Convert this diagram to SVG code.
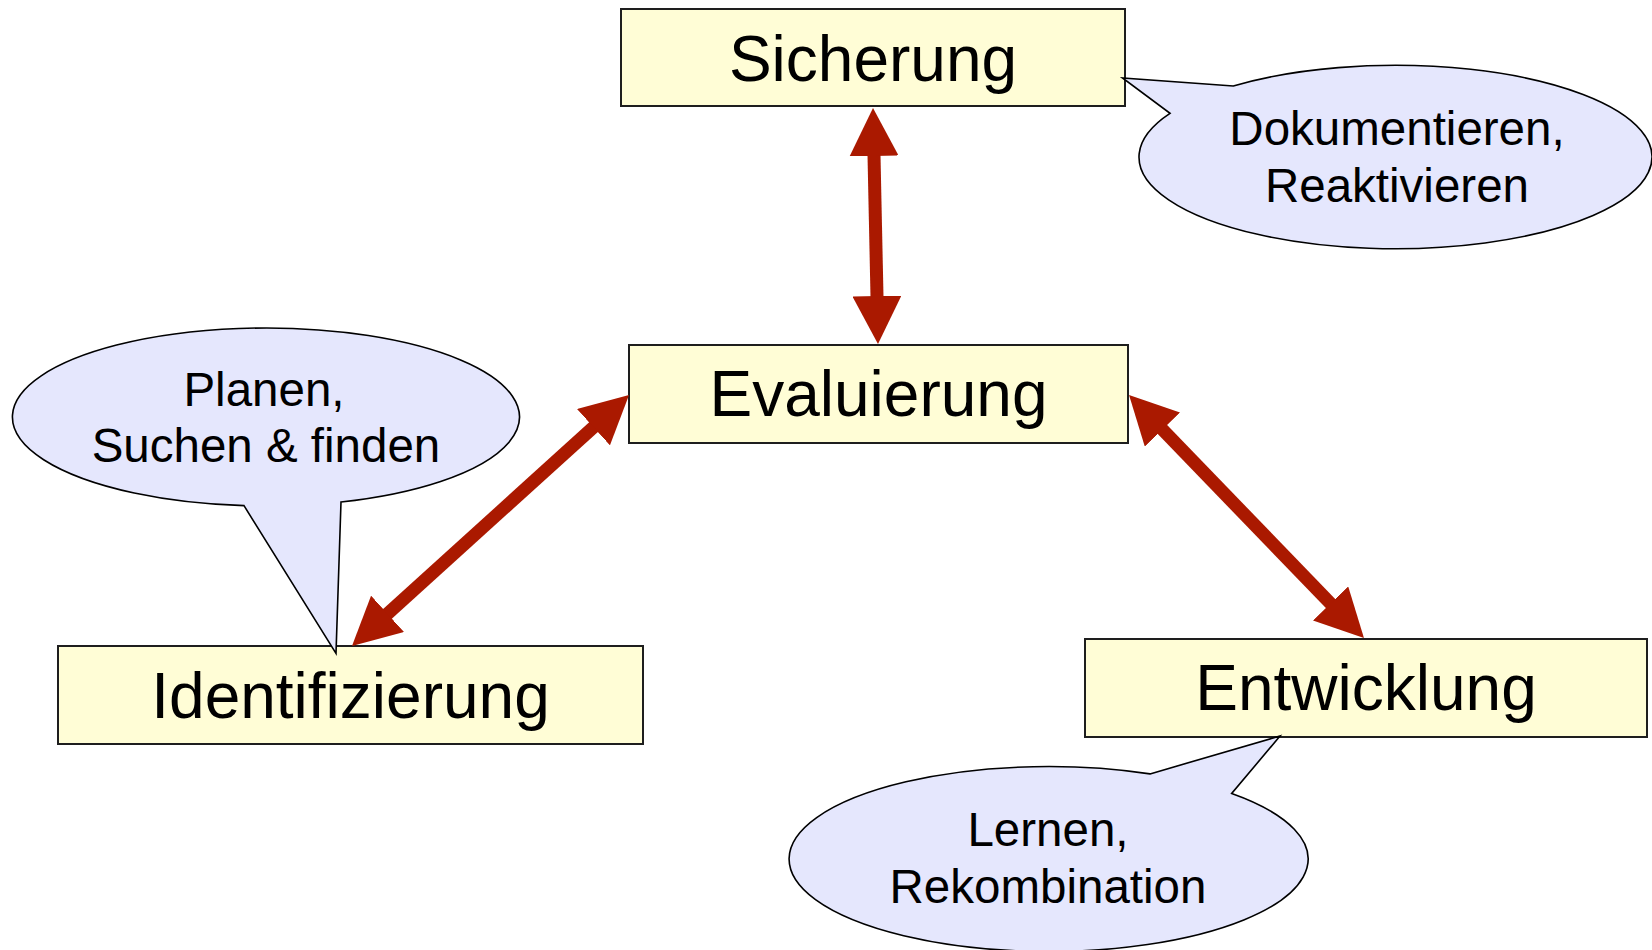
<svg xmlns="http://www.w3.org/2000/svg" width="1652" height="950" viewBox="0 0 1652 950">
<style>
.box{fill:#FFFDD6;stroke:#1e1e1e;stroke-width:2}
.lbl{font-family:"Liberation Sans",Arial,sans-serif;font-size:64px;fill:#000;text-anchor:middle}
.call{fill:#E5E7FD;stroke:#000;stroke-width:1.6;stroke-linejoin:miter}
.ctxt{font-family:"Liberation Sans",Arial,sans-serif;font-size:47.5px;fill:#000;text-anchor:middle}
.conn{stroke:#AA1900;stroke-width:13;fill:none;marker-start:url(#head);marker-end:url(#head)}
</style>
<defs>
<marker id="head" markerUnits="userSpaceOnUse" viewBox="0 0 48 49" markerWidth="48" markerHeight="49" refX="18" refY="24.5" orient="auto-start-reverse">
<path d="M0,0 L48,24.5 L0,49 Z" fill="#AA1900"/>
</marker>
</defs>
<rect width="1652" height="950" fill="#fff"/>
<g id="node-sicherung">
<rect class="box" x="621" y="9" width="504" height="97"/>
<text class="lbl" x="873" y="81">Sicherung</text>
</g>
<g id="node-evaluierung">
<rect class="box" x="629" y="345" width="499" height="98"/>
<text class="lbl" x="878.5" y="416">Evaluierung</text>
</g>
<g id="node-identifizierung">
<rect class="box" x="58" y="646" width="585" height="98"/>
<text class="lbl" x="350.5" y="718">Identifizierung</text>
</g>
<g id="node-entwicklung">
<rect class="box" x="1085" y="639" width="562" height="98"/>
<text class="lbl" x="1366" y="710">Entwicklung</text>
</g>
<g id="connectors">
<line class="conn" x1="873.64" y1="138" x2="877.36" y2="314"/>
<line class="conn" x1="374.2" y1="625.9" x2="606.8" y2="415.1"/>
<line class="conn" x1="1149.9" y1="416.6" x2="1343.1" y2="616.4"/>
</g>
<g id="callout-sicherung">
<path class="call" d="M1233.3,85.96 L1122.5,78 L1170,113.3 A256.5 91.7 0 1 0 1233.3,85.96 Z"/>
<text class="ctxt" x="1397" y="145">Dokumentieren,</text>
<text class="ctxt" x="1397" y="202">Reaktivieren</text>
</g>
<g id="callout-identifizierung">
<path class="call" d="M244,505.66 L336,653.3 L341,502 A253.5 89 0 1 0 244,505.66 Z"/>
<text class="ctxt" x="264" y="406">Planen,</text>
<text class="ctxt" x="266" y="462">Suchen &amp; finden</text>
</g>
<g id="callout-entwicklung">
<path class="call" d="M1150,773.9 L1280,736 L1231.7,793.5 A259.5 92.5 0 1 1 1150,773.9 Z"/>
<text class="ctxt" x="1048" y="846">Lernen,</text>
<text class="ctxt" x="1048" y="903">Rekombination</text>
</g>
</svg>
